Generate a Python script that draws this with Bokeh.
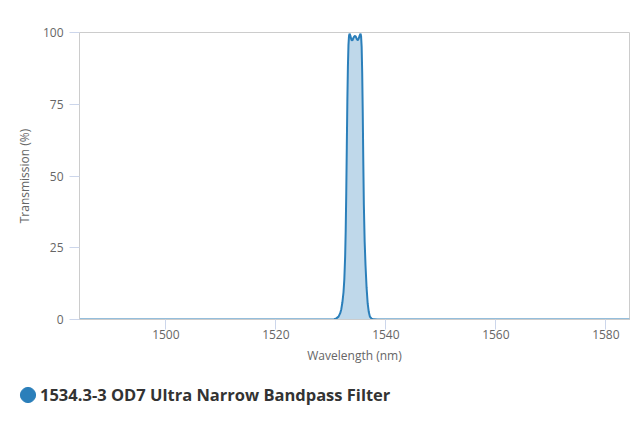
from bokeh.plotting import figure
from bokeh.layouts import column, row
from bokeh.models import ColumnDataSource, FixedTicker, Legend, LegendItem, Range1d
from bokeh.embed import file_html
from bokeh.resources import INLINE

series_name = "1534.3-3 OD7 Ultra Narrow Bandpass Filter"
x_ticks = [1500, 1520, 1540, 1560, 1580]
y_ticks = [0, 25, 50, 75, 100]

wavelength = [1484.3, 1520.0, 1528.0, 1530.0, 1530.6, 1531.0, 1531.4, 1531.7, 1531.9, 1532.1,
              1532.3, 1532.45, 1532.6, 1532.7, 1532.8, 1532.9, 1533.0, 1533.1, 1533.2, 1533.3,
              1533.4, 1533.55, 1533.75, 1533.9, 1534.05, 1534.25, 1534.4, 1534.55, 1534.75, 1534.9,
              1535.05, 1535.25, 1535.4, 1535.5, 1535.6, 1535.7, 1535.8, 1535.9, 1536.0, 1536.15,
              1536.3, 1536.5, 1536.7, 1536.9, 1537.1, 1537.4, 1537.8, 1538.5, 1545.0, 1584.3]
transmission = [0.0, 0.0, 0.0, 0.02, 0.1, 0.4, 1.0, 2.2, 3.6, 6.0,
                9.5, 14.0, 22.0, 31.0, 44.0, 60.0, 76.0, 88.0, 95.5, 98.8,
                99.6, 98.9, 97.4, 97.2, 97.9, 98.6, 98.8, 98.5, 97.6, 97.3,
                97.8, 99.0, 99.6, 98.6, 95.0, 86.0, 72.0, 55.0, 40.0, 27.0,
                19.0, 11.0, 5.5, 2.6, 1.0, 0.3, 0.05, 0.0, 0.0, 0.0]

src = ColumnDataSource(dict(x=wavelength, y=transmission))
color = "#2b7fba"
font = "Open Sans"

p = figure(width=632, height=370, output_backend="svg", toolbar_location=None,
           x_range=Range1d(1484.3, 1584.3), y_range=Range1d(0, 100),
           min_border_left=79, min_border_right=3, min_border_top=32, min_border_bottom=51)
p.xgrid.visible = False
p.ygrid.visible = False
p.outline_line_color = "#cccccc"
p.outline_line_width = 1

p.varea(x="x", y1=0, y2="y", source=src, fill_color=color, fill_alpha=0.3)
p.line(x="x", y="y", source=src, line_color=color, line_width=2)

for ax in (p.xaxis[0], p.yaxis[0]):
    ax.axis_line_color = "#cccccc"
    ax.major_tick_line_color = "#ccd6eb"
    ax.minor_tick_line_color = None
    ax.major_tick_in = 0
    ax.major_tick_out = 10
    ax.major_label_text_font = font
    ax.major_label_text_font_size = "12px"
    ax.major_label_text_color = "#666666"
    ax.axis_label_text_font = font
    ax.axis_label_text_font_size = "12px"
    ax.axis_label_text_font_style = "normal"
    ax.axis_label_text_color = "#666666"

p.xaxis.ticker = FixedTicker(ticks=x_ticks)
p.yaxis.ticker = FixedTicker(ticks=y_ticks)
p.xaxis.axis_label = "Wavelength (nm)"
p.yaxis.axis_label = "Transmission (%)"
p.xaxis.major_label_standoff = 0
p.xaxis.axis_label_standoff = 5
p.yaxis.major_label_standoff = 6
p.yaxis.axis_label_standoff = 7

# legend strip below the chart (its own frame, so the legend is not clipped)
lg = figure(width=632, height=48, output_backend="svg", toolbar_location=None,
            x_range=Range1d(0, 1), y_range=Range1d(0, 1),
            x_axis_type=None, y_axis_type=None,
            min_border_left=0, min_border_right=0, min_border_top=0, min_border_bottom=0)
lg.xgrid.visible = False
lg.ygrid.visible = False
lg.outline_line_color = None
# proxy renderer for the round legend swatch; the series' points lie outside
# this strip's ranges, so nothing is drawn in the strip itself
swatch = lg.ellipse(x="x", y="y", source=src, width=15, height=15,
                    width_units="screen", height_units="screen",
                    fill_color=color, line_color=color)

legend = Legend(items=[LegendItem(label=series_name, renderers=[swatch])],
                location=(18, 12), orientation="horizontal",
                padding=0, margin=0, spacing=0, label_standoff=3,
                glyph_width=19, glyph_height=19,
                border_line_color=None, background_fill_alpha=0,
                label_text_font=font, label_text_font_size="16.5px",
                label_text_font_style="bold", label_text_color="#333333")
lg.add_layout(legend, "center")

layout = column(p, row(lg), spacing=0)
open("out.html", "w").write(file_html(layout, INLINE))
